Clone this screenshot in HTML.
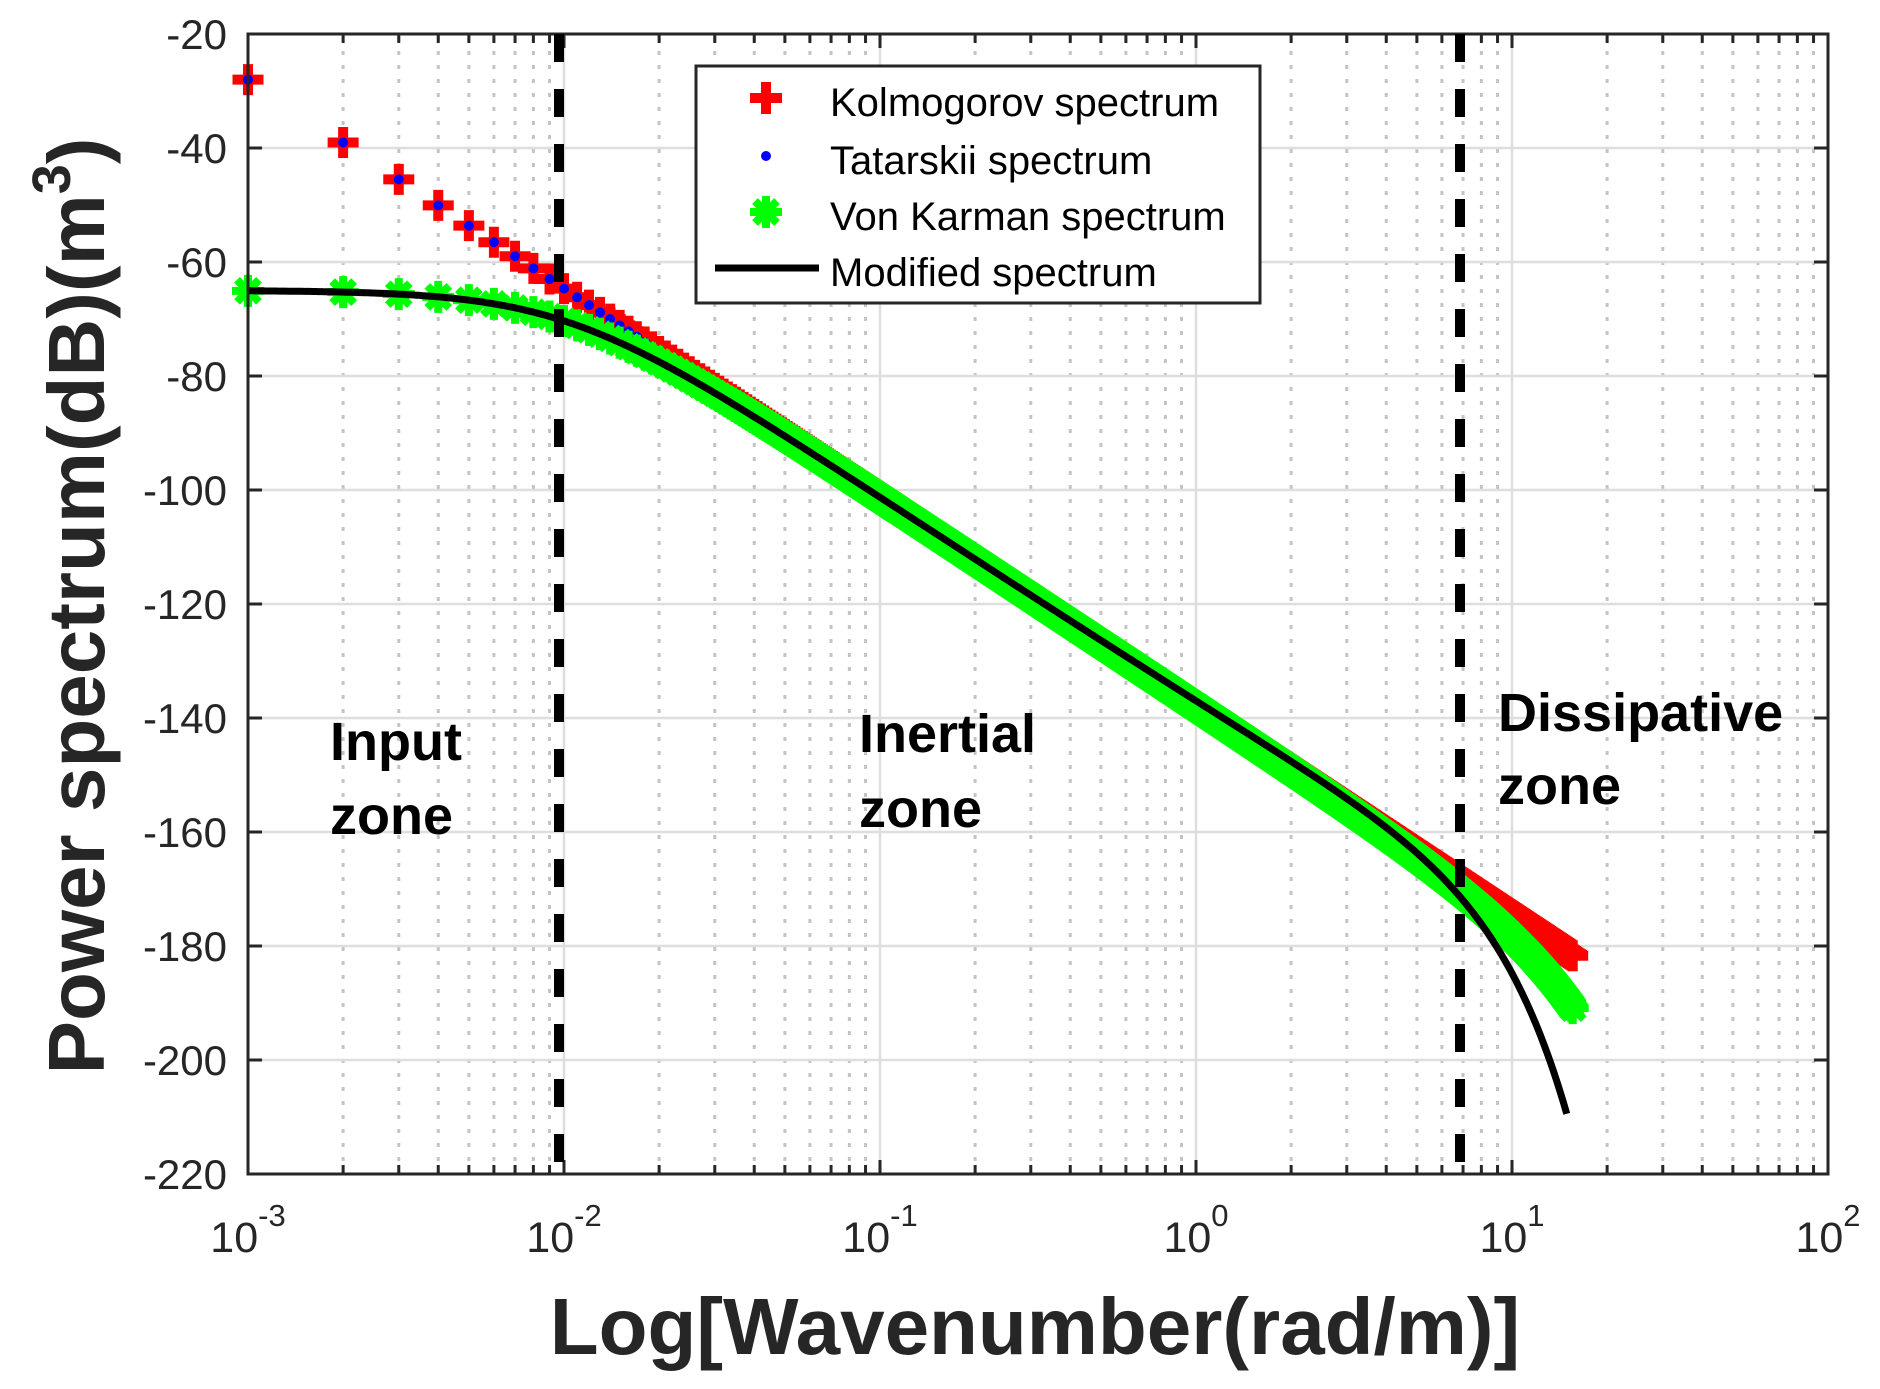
<!DOCTYPE html>
<html><head><meta charset="utf-8"><style>
html,body{margin:0;padding:0;background:#fff;}
svg{display:block;}
</style></head><body>
<svg id="s" width="1880" height="1389" viewBox="0 0 1880 1389" xmlns="http://www.w3.org/2000/svg" font-family="'Liberation Sans', Arial, sans-serif">
<rect width="1880" height="1389" fill="#fff"/>
<g id="grid"></g>
<g id="data"></g>
<g id="axes"></g>
<g font-weight="bold" font-size="54" fill="#000">
<text x="330" y="760">Input</text>
<text x="330" y="834">zone</text>
<text x="859" y="752">Inertial</text>
<text x="859" y="827">zone</text>
<text x="1498" y="731">Dissipative</text>
<text x="1498" y="804">zone</text>
</g>
<g>
<rect x="696" y="66" width="564" height="237" fill="#fff" stroke="#262626" stroke-width="3"/>
<path d="M750 98 h32 M766 82 v32" stroke="#f00" stroke-width="10"/>
<circle cx="766" cy="156" r="5" fill="#00f"/>
<path d="M750 212 h32 M766 196 v32 M755 201 l22 22 M777 201 l-22 22" stroke="#0f0" stroke-width="8"/>
<path d="M715 268 h104" stroke="#000" stroke-width="7"/>
<g font-size="40" fill="#000">
<text x="830" y="116">Kolmogorov spectrum</text>
<text x="830" y="174">Tatarskii spectrum</text>
<text x="830" y="230">Von Karman spectrum</text>
<text x="830" y="286">Modified spectrum</text>
</g>
</g>
<text x="1035" y="1354" font-size="80" font-weight="bold" fill="#262626" text-anchor="middle">Log[Wavenumber(rad/m)]</text>
<text transform="translate(104,606) rotate(-90)" font-size="80" font-weight="bold" fill="#262626" text-anchor="middle">Power spectrum(dB)(m<tspan font-size="54" dy="-34">3</tspan><tspan dy="34">)</tspan></text>
</svg>
<script>
(function(){
var NS="http://www.w3.org/2000/svg";
var L=248,R=1828,T=34,B=1174,D=316,PD=5.7;
function X(k){return L+(Math.log10(k)+3)*D;}
function Y(d){return T+(-20-d)*PD;}
function el(p,tag,a,txt){var e=document.createElementNS(NS,tag);for(var k in a)e.setAttribute(k,a[k]);if(txt!==undefined)e.textContent=txt;p.appendChild(e);return e;}
var g=document.getElementById('grid'),ax=document.getElementById('axes'),dt=document.getElementById('data');
var mg="",mn="",tk="";
for(var e=-3;e<=2;e++){
  var x=X(Math.pow(10,e));
  if(e>-3&&e<2) mg+="M"+x+" "+T+"V"+B;
  tk+="M"+x+" "+B+"v-14M"+x+" "+T+"v14";
  if(e<2)for(var m=2;m<=9;m++){var xm=X(m*Math.pow(10,e));mn+="M"+xm+" "+(T+3)+"V"+B;tk+="M"+xm+" "+B+"v-9M"+xm+" "+T+"v9";}
}
for(var d=-40;d>=-200;d-=20){mg+="M"+L+" "+Y(d)+"H"+R;}
for(var d=-20;d>=-220;d-=20){tk+="M"+L+" "+Y(d)+"h14M"+R+" "+Y(d)+"h-14";}
el(g,'path',{d:mn,stroke:'#c4c4c4','stroke-width':3,'stroke-dasharray':'4 10',fill:'none'});
el(g,'path',{d:mg,stroke:'#dedede','stroke-width':2.5,fill:'none'});
el(ax,'rect',{x:L,y:T,width:R-L,height:B-T,fill:'none',stroke:'#262626','stroke-width':3});
el(ax,'path',{d:tk,stroke:'#262626','stroke-width':3,fill:'none'});
for(var d=-20;d>=-220;d-=20){el(ax,'text',{x:227,y:Y(d)+15,'font-size':42,'text-anchor':'end',fill:'#262626'},String(d));}
for(var e=-3;e<=2;e++){
  var x=X(Math.pow(10,e));
  var t=el(ax,'text',{x:x,y:1252,'font-size':43,'text-anchor':'middle',fill:'#262626'});
  el(t,'tspan',{},"10");el(t,'tspan',{dy:-26,'font-size':31},String(e));
}
el(ax,'path',{d:"M559 "+T+"V"+B+"M1460 "+T+"V"+B,stroke:'#000','stroke-width':10,'stroke-dasharray':'28 27',fill:'none'});
var k0=0.0102,km=10.7,kl=5.2,LOG10E=4.3429,KMAX=15.6;
function K(k){return -138-(110/3)*Math.log10(k);}
function VK(k){return -138-(55/3)*Math.log10(k*k+k0*k0)-LOG10E*k*k/(km*km);}
function TA(k){return K(k)-LOG10E*k*k/(km*km);}
function MOD(k){var r=k/kl;return -138-(55/3)*Math.log10(k*k+k0*k0)+10*Math.log10(1+1.802*r-0.254*Math.pow(r,7/6))-LOG10E*r*r;}
var ks=[],k=0.001,last=-1e9;
while(k<=0.2){var x=X(k);if(x-last>=1.2){ks.push(k);last=x;}k=Math.round((k+0.001)*1000)/1000;}
var lx=X(ks[ks.length-1]);
for(var x=lx+1.2;x<=X(KMAX);x+=1.2){ks.push(Math.pow(10,(x-L)/D-3));}
var pr="",pb="",pg="";
ks.forEach(function(k){
  var x=X(k),y=Y(K(k));pr+="M"+(x-15.5)+" "+y+"h31M"+x+" "+(y-15.5)+"v31";
  if(k<0.05){var yb=Y(TA(k));pb+="M"+x+" "+yb+"h0.01";}
  var yg=Y(VK(k));pg+="M"+(x-16)+" "+yg+"h32M"+x+" "+(yg-16)+"v32M"+(x-11)+" "+(yg-11)+"l22 22M"+(x+11)+" "+(yg-11)+"l-22 22";
});
el(dt,'path',{d:pr,stroke:'#f00','stroke-width':10,fill:'none'});
el(dt,'path',{d:pb,stroke:'#00f','stroke-width':10,'stroke-linecap':'round',fill:'none'});
el(dt,'path',{d:pg,stroke:'#0f0','stroke-width':8,fill:'none'});
var pm="";
for(var x=X(0.001);x<=X(14.9);x+=2){var kk=Math.pow(10,(x-L)/D-3);pm+=(pm?"L":"M")+x.toFixed(1)+" "+Y(MOD(kk)).toFixed(1);}
pm+="L"+X(14.9).toFixed(1)+" "+Y(MOD(14.9)).toFixed(1);
el(dt,'path',{d:pm,stroke:'#000','stroke-width':7,fill:'none'});
})();
</script>
</body></html>
